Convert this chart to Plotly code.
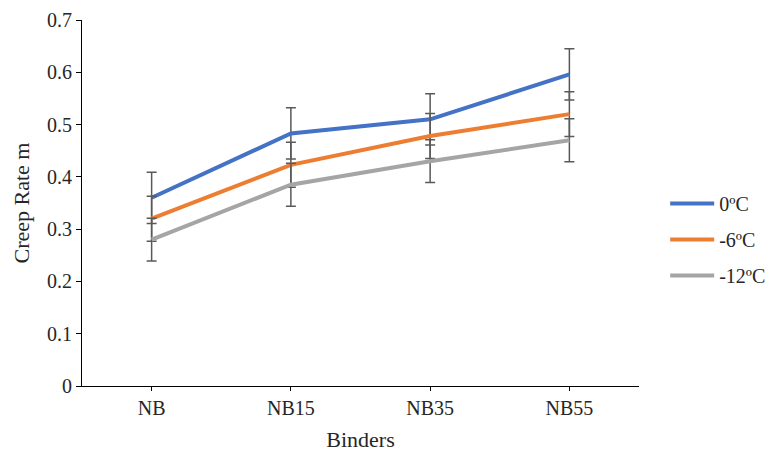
import plotly.graph_objects as go

# Binder categories and creep rate (m) at each test temperature
binders = ["NB", "NB15", "NB35", "NB55"]
creep_0c = [0.36, 0.483, 0.51, 0.596]
creep_m6c = [0.32, 0.423, 0.478, 0.52]
creep_m12c = [0.28, 0.385, 0.43, 0.47]

# Standard error of each series (symmetric error bars)
err_0c = 0.049
err_m6c = 0.043
err_m12c = 0.041

series_names = ["0ºC", "-6ºC", "-12ºC"]
colors = ["#4472C4", "#ED7D31", "#A5A5A5"]

fig = go.Figure()
for name, vals, err, col in zip(series_names,
                                [creep_0c, creep_m6c, creep_m12c],
                                [err_0c, err_m6c, err_m12c],
                                colors):
    fig.add_trace(go.Scatter(
        x=binders, y=vals, name=name, mode="lines",
        legendgroup=name,
        line=dict(color=col, width=4),
        error_y=dict(type="constant", value=err, color="#595959",
                     thickness=1.5, width=5),
    ))

font_family = "Liberation Serif"

fig.update_layout(
    width=771, height=453,
    margin=dict(l=82, r=132, t=20, b=67, autoexpand=False),
    paper_bgcolor="white", plot_bgcolor="white",
    font=dict(family=font_family, size=20, color="#262626"),
    showlegend=True,
    legend=dict(x=1.047, y=0.40, xanchor="left", yanchor="middle",
                font=dict(family=font_family, size=20, color="#262626"),
                traceorder="grouped", tracegroupgap=7,
                itemwidth=44),
    xaxis=dict(
        type="category", range=[-0.5, 3.5],
        showline=True, linecolor="black", linewidth=1,
        ticks="outside", ticklen=4, tickcolor="black",
        tickfont=dict(family=font_family, size=20, color="#262626"),
        showgrid=False, zeroline=False,
        title=dict(text="Binders", font=dict(family=font_family, size=22),
                   standoff=13),
    ),
    yaxis=dict(
        range=[0, 0.7], dtick=0.1, tick0=0,
        showline=True, linecolor="black", linewidth=1,
        ticks="outside", ticklen=5, tickcolor="black",
        tickfont=dict(family=font_family, size=20, color="#262626"),
        showgrid=False, zeroline=False,
        tickformat="~g",
        title=dict(text="Creep Rate m", font=dict(family=font_family, size=22),
                   standoff=11),
    ),
)

fig.write_html("out.html")
